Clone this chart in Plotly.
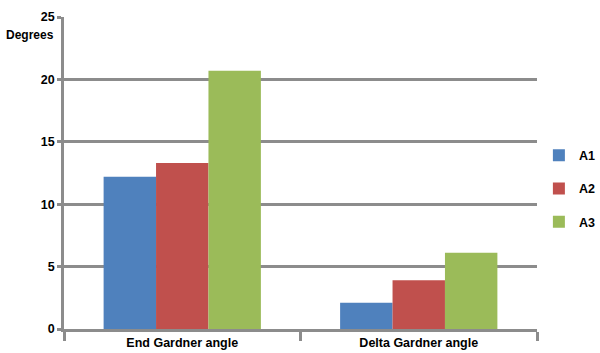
import plotly.graph_objects as go

categories = ["End Gardner angle", "Delta Gardner angle"]
series_names = ["A1", "A2", "A3"]
a1 = [12.2, 2.1]
a2 = [13.3, 3.9]
a3 = [20.7, 6.1]
colors = ["#4F81BD", "#C0504D", "#9BBB59"]
y_ticks = [0, 5, 10, 15, 20, 25]

grey = "#8c8c8c"
font_family = "Liberation Sans, Arial, sans-serif"

fig = go.Figure()
for i, (name, vals) in enumerate(zip(series_names, [a1, a2, a3])):
    fig.add_trace(go.Bar(
        x=categories, y=vals, name=name,
        marker=dict(color=colors[i], line=dict(width=0)),
        legendgroup=name,
    ))

fig.update_layout(
    width=600, height=353,
    margin=dict(l=64, r=63, t=17, b=24, autoexpand=False),
    paper_bgcolor="white", plot_bgcolor="white",
    barmode="group", bargap=0.335, bargroupgap=0,
    font=dict(family=font_family, size=12, color="black", weight="bold"),
    legend=dict(
        x=1.004, y=0.604, xanchor="left", yanchor="top",
        font=dict(size=12.5, family=font_family, weight="bold"),
        tracegroupgap=14, itemwidth=30,
    ),
    showlegend=True,
)
fig.update_yaxes(
    range=[0, 25], tickvals=y_ticks,
    showgrid=True, gridcolor=grey, gridwidth=2.5,
    showline=True, linecolor=grey, linewidth=2.5,
    ticks="outside", ticklen=4, tickwidth=2.5, tickcolor=grey,
    tickfont=dict(size=12.5, family=font_family, weight="bold"),
    zeroline=False, automargin=False,
)
fig.update_xaxes(
    showline=True, linecolor=grey, linewidth=2.5,
    ticks="outside", tickson="boundaries", ticklen=9, tickwidth=2.5, tickcolor=grey,
    tickfont=dict(size=12.5, family=font_family, weight="bold"),
    showgrid=False, automargin=False,
)
fig.add_annotation(
    text="Degrees", xref="paper", yref="paper",
    x=-0.127, y=0.942, xanchor="left", yanchor="middle",
    showarrow=False, font=dict(size=12, family=font_family, weight="bold"),
)
fig.write_html("out.html")
